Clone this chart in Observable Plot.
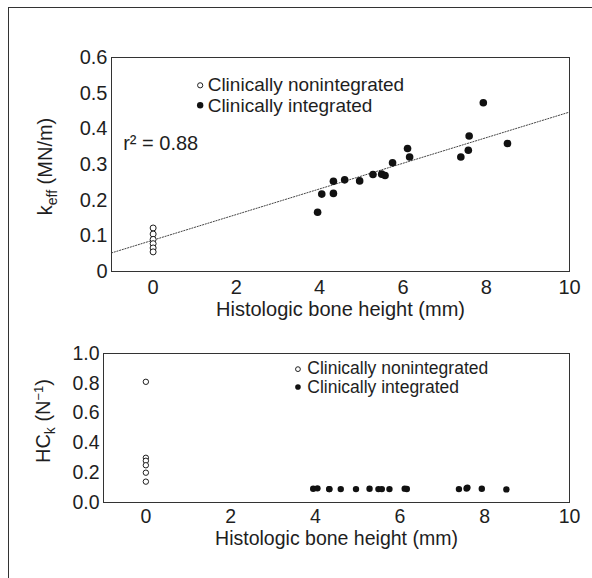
<!DOCTYPE html>
<html><head><meta charset="utf-8">
<script src="https://cdn.jsdelivr.net/npm/d3@7"></script>
<script src="https://cdn.jsdelivr.net/npm/@observablehq/plot@0.6"></script>
<style>
body{margin:0;background:#fff;}
#wrap{position:relative;width:592px;height:578px;overflow:hidden;font-family:"Liberation Sans",Arial,sans-serif;background:#fff;}
#border{position:absolute;left:8px;top:7px;width:600px;height:600px;border-left:1px solid #333;border-top:1px solid #333;}
#top{position:absolute;left:0;top:0;}
#bot{position:absolute;left:0;top:320px;}
</style></head><body>
<div id="wrap"><div id="border"></div><div id="top"></div><div id="bot"></div></div>
<script>
// ---- data ----
const nonintX = [0, 0, 0, 0, 0, 0];
const nonintKeff = [0.122, 0.105, 0.090, 0.078, 0.066, 0.055];
const nonintHC = [0.81, 0.30, 0.28, 0.25, 0.20, 0.14];
const intX = [3.95, 4.05, 4.33, 4.33, 4.60, 4.96, 5.28, 5.49, 5.57, 5.75, 6.11, 6.16, 7.39, 7.57, 7.59, 7.93, 8.51];
const intKeff = [0.166, 0.217, 0.219, 0.253, 0.257, 0.254, 0.272, 0.273, 0.269, 0.305, 0.345, 0.321, 0.321, 0.340, 0.380, 0.473, 0.359];
const intHC = [0.092, 0.095, 0.090, 0.090, 0.090, 0.090, 0.092, 0.090, 0.090, 0.090, 0.093, 0.091, 0.090, 0.094, 0.100, 0.092, 0.088];
const fitIntercept = 0.088, fitSlope = 0.0359; // dotted regression line
const rSquared = "r² = 0.88";
const legendLabels = ["Clinically nonintegrated", "Clinically integrated"];
const xTitle = "Histologic bone height (mm)";
const xDomain = [-1, 10];
const xTicks = [0, 2, 4, 6, 8, 10];
const keffTicks = [0, 0.1, 0.2, 0.3, 0.4, 0.5, 0.6];
const hcTicks = [0, 0.2, 0.4, 0.6, 0.8, 1.0];

const font = '"Liberation Sans", Arial, sans-serif';
const ink = "#1e1e1e";
const nonint = nonintX.map((x, i) => ({x, k: nonintKeff[i], hc: nonintHC[i]}));
const integ = intX.map((x, i) => ({x, k: intKeff[i], hc: intHC[i]}));
const fitLine = xDomain.map(x => ({x, y: fitIntercept + fitSlope * x}));

// ---- top panel ----
const topPlot = Plot.plot({
  width: 592, height: 320,
  marginTop: 57, marginBottom: 49, marginLeft: 111, marginRight: 23,
  style: {fontFamily: font, fontSize: "20px", color: ink, background: "transparent", overflow: "visible"},
  x: {domain: xDomain, ticks: xTicks, tickSize: 0, tickPadding: 8, label: null},
  y: {domain: [0, 0.6], ticks: keffTicks, tickFormat: d => d === 0 ? "0" : d3.format(".1f")(d), tickSize: 0, tickPadding: 4, label: null},
  marks: [
    Plot.frame({stroke: "#333", strokeWidth: 1}),
    Plot.line(fitLine, {x: "x", y: "y", stroke: "#444", strokeWidth: 1, strokeDasharray: "1.2,1.6"}),
    Plot.dot(nonint, {x: "x", y: "k", r: 3, stroke: ink, fill: "white", strokeWidth: 1}),
    Plot.dot(integ, {x: "x", y: "k", r: 3.8, fill: "#111", stroke: "none"}),
    Plot.dot([{x: 1.13, y: 0.522}], {x: "x", y: "y", r: 2.6, stroke: ink, fill: "white", strokeWidth: 1}),
    Plot.dot([{x: 1.13, y: 0.466}], {x: "x", y: "y", r: 3.2, fill: "#111", stroke: "none"}),
    Plot.text([legendLabels[0]], {x: 1.31, y: 0.522, textAnchor: "start", fontSize: 19, fill: ink}),
    Plot.text([legendLabels[1]], {x: 1.31, y: 0.463, textAnchor: "start", fontSize: 19, fill: ink}),
    Plot.text([rSquared], {x: -0.72, y: 0.358, textAnchor: "start", fontSize: 20, fill: ink}),
    Plot.text([xTitle], {frameAnchor: "bottom", lineAnchor: "middle", dy: 37.6, fontSize: 20, fill: ink})
  ]
});
document.getElementById("top").appendChild(topPlot);

// ---- bottom panel ----
const botPlot = Plot.plot({
  width: 592, height: 258,
  marginTop: 33, marginBottom: 76, marginLeft: 103, marginRight: 23,
  style: {fontFamily: font, fontSize: "19.5px", color: ink, background: "transparent", overflow: "visible"},
  x: {domain: xDomain, ticks: xTicks, tickSize: 0, tickPadding: 7, label: null},
  y: {domain: [0, 1], ticks: hcTicks, tickFormat: d3.format(".1f"), tickSize: 0, tickPadding: 4, label: null},
  marks: [
    Plot.frame({stroke: "#333", strokeWidth: 1}),
    Plot.dot(nonint, {x: "x", y: "hc", r: 2.7, stroke: ink, fill: "white", strokeWidth: 1}),
    Plot.dot(integ, {x: "x", y: "hc", r: 3.2, fill: "#111", stroke: "none"}),
    Plot.dot([{x: 3.59, y: 0.895}], {x: "x", y: "y", r: 2.4, stroke: ink, fill: "white", strokeWidth: 1}),
    Plot.dot([{x: 3.59, y: 0.775}], {x: "x", y: "y", r: 2.8, fill: "#111", stroke: "none"}),
    Plot.text([legendLabels[0]], {x: 3.81, y: 0.901, textAnchor: "start", fontSize: 17.5, fill: ink}),
    Plot.text([legendLabels[1]], {x: 3.81, y: 0.770, textAnchor: "start", fontSize: 17.5, fill: ink}),
    Plot.text([xTitle], {frameAnchor: "bottom", lineAnchor: "middle", dy: 36.3, fontSize: 19.5, fill: ink})
  ]
});
document.getElementById("bot").appendChild(botPlot);

// ---- y-axis titles with sub/superscripts ----
function yTitle(svg, cx, cy, parts, size) {
  const t = d3.select(svg).append("text")
    .attr("transform", `translate(${cx},${cy}) rotate(-90)`)
    .attr("text-anchor", "middle")
    .attr("font-family", font).attr("font-size", size).attr("fill", ink);
  for (const p of parts) {
    t.append("tspan").attr("dy", p.dy || 0).attr("font-size", p.size || size).text(p.text);
  }
}
yTitle(topPlot, 52, 166.5, [
  {text: "k"}, {text: "eff", size: 14, dy: 5}, {text: " (MN/m)", dy: -5}
], 20);
yTitle(botPlot, 50, 101, [
  {text: "HC"}, {text: "k", size: 14, dy: 5}, {text: " (N", dy: -5}, {text: "−1", size: 13, dy: -7}, {text: ")", dy: 7}
], 20);
</script>
</body></html>
